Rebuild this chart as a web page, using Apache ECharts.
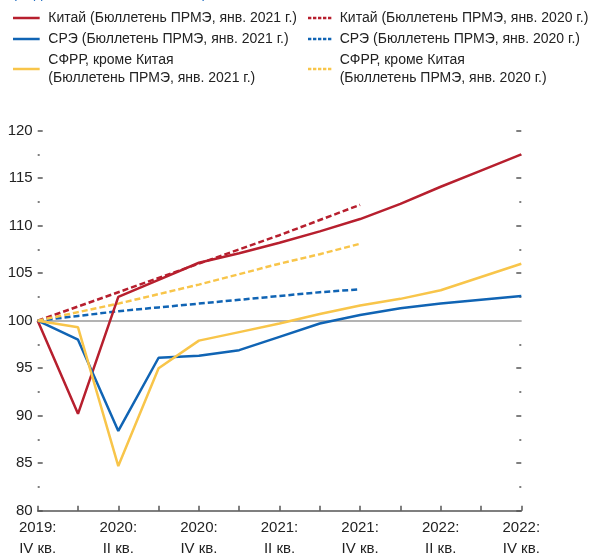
<!DOCTYPE html>
<html>
<head>
<meta charset="utf-8">
<script src="https://cdn.jsdelivr.net/npm/echarts@6/dist/echarts.min.js"></script>
<style>
  html, body { margin: 0; padding: 0; background: #fff; }
  #chart { width: 594px; height: 553px; }
</style>
</head>
<body>
<div id="chart"></div>
<script>
// кварталы IV кв. 2019 – IV кв. 2022
var quarters = [
  "2019:\nIV кв.", "2020:\nI кв.", "2020:\nII кв.", "2020:\nIII кв.", "2020:\nIV кв.",
  "2021:\nI кв.", "2021:\nII кв.", "2021:\nIII кв.", "2021:\nIV кв.",
  "2022:\nI кв.", "2022:\nII кв.", "2022:\nIII кв.", "2022:\nIV кв."
];

// бюллетень ПРМЭ, янв. 2021 г.
var china2021 = [100, 90.2, 102.5, 104.3, 106.1, 107.1, 108.2, 109.4, 110.7, 112.3, 114.1, 115.8, 117.5];
var eme2021 = [100, 98.0, 88.4, 96.1, 96.3, 96.9, 98.3, 99.7, 100.6, 101.3, 101.8, 102.2, 102.6];
var sfrr2021 = [100, 99.3, 84.7, 95.0, 97.9, 98.8, 99.7, 100.7, 101.6, 102.3, 103.2, 104.6, 106.0];

// бюллетень ПРМЭ, янв. 2020 г.
var china2020 = [100, 101.5, 103.0, 104.5, 106.0, 107.5, 109.0, 110.6, 112.2, null, null, null, null];
var eme2020 = [100, 100.5, 101.0, 101.4, 101.8, 102.2, 102.6, 103.0, 103.3, null, null, null, null];
var sfrr2020 = [100, 100.9, 101.8, 102.8, 103.8, 104.9, 106.0, 107.0, 108.1, null, null, null, null];

// подписи
var names = [
  "Китай (Бюллетень ПРМЭ, янв. 2021 г.)",
  "СРЭ (Бюллетень ПРМЭ, янв. 2021 г.)",
  "СФРР, кроме Китая\n(Бюллетень ПРМЭ, янв. 2021 г.)",
  "Китай (Бюллетень ПРМЭ, янв. 2020 г.)",
  "СРЭ (Бюллетень ПРМЭ, янв. 2020 г.)",
  "СФРР, кроме Китая\n(Бюллетень ПРМЭ, янв. 2020 г.)"
];

var RED = "#b71f2e";
var BLUE = "#1064b4";
var YELLOW = "#f8c54a";
var FONT = "'Liberation Sans Narrow', 'Liberation Sans', Arial, sans-serif";

// значки легенды: сплошная и пунктирная линия
var SOLID_ICON = "path://M0,0h32v3h-32z";
var DASH_ICON = "path://M0,0h4v3h-4z M6,0h4v3h-4z M12,0h4v3h-4z M18,0h4v3h-4z M24,0h4v3h-4z";

function line(name, data, color, dashed) {
  return {
    name: name,
    type: "line",
    data: data,
    symbol: "none",
    connectNulls: false,
    itemStyle: { color: color },
    lineStyle: { color: color, width: 2.5, type: dashed ? [6, 3] : "solid" },
    z: dashed ? 3 : 4
  };
}

var legendText = { fontFamily: FONT, fontSize: 14, color: "#222", lineHeight: 18, padding: [0, 0, 0, 1] };

var option = {
  animation: false,
  textStyle: { fontFamily: FONT },
  graphic: [{
    type: "text",
    left: 12,
    top: -14,
    style: { text: "(индекс, IV кв. 2019 г. = 100)", font: "15px " + FONT, fill: "#2a74c4" }
  }],
  legend: [
    {
      data: names.slice(0, 3).map(function (n) { return { name: n, icon: SOLID_ICON }; }),
      left: 13,
      top: 9,
      padding: 0,
      orient: "vertical",
      itemWidth: 32,
      itemHeight: 2.5,
      itemGap: 3,
      selectedMode: false,
      textStyle: legendText
    },
    {
      data: names.slice(3).map(function (n) { return { name: n, icon: DASH_ICON }; }),
      left: 308,
      top: 9,
      padding: 0,
      orient: "vertical",
      itemWidth: 28,
      itemHeight: 2.5,
      itemGap: 3,
      selectedMode: false,
      textStyle: legendText
    }
  ],
  grid: { left: 37.7, right: 72.7, top: 130.7, bottom: 42.3, outerBoundsMode: "none", containLabel: false },
  xAxis: {
    type: "category",
    data: quarters,
    boundaryGap: false,
    axisLine: { lineStyle: { color: "#555", width: 1.5 } },
    axisTick: { inside: true, length: 5, interval: 0, lineStyle: { color: "#555", width: 1.5 } },
    axisLabel: {
      interval: 1,
      margin: 7,
      fontFamily: FONT,
      fontSize: 15,
      lineHeight: 21,
      color: "#222"
    },
    splitLine: { show: false }
  },
  yAxis: [
    {
      type: "value",
      min: 80,
      max: 120,
      interval: 5,
      axisLine: { show: false },
      axisTick: { show: true, inside: true, length: 5, lineStyle: { color: "#555", width: 1.5 } },
      minorTick: { show: true, splitNumber: 2, length: 2, lineStyle: { color: "#555", width: 1.5 } },
      axisLabel: { margin: 5, fontFamily: FONT, fontSize: 15, color: "#222" },
      splitLine: { show: false }
    },
    {
      type: "value",
      position: "right",
      min: 80,
      max: 120,
      interval: 5,
      axisLine: { show: false },
      axisTick: { show: true, inside: true, length: 5, lineStyle: { color: "#555", width: 1.5 } },
      minorTick: { show: true, splitNumber: 2, length: 2, lineStyle: { color: "#555", width: 1.5 } },
      axisLabel: { show: false },
      splitLine: { show: false }
    }
  ],
  series: [
    Object.assign(line(names[0], china2021, RED, false), {
      markLine: {
        silent: true,
        symbol: "none",
        label: { show: false },
        lineStyle: { color: "#b3b3b3", width: 2, type: "solid" },
        data: [{ yAxis: 100 }],
        z: 1
      }
    }),
    line(names[1], eme2021, BLUE, false),
    line(names[2], sfrr2021, YELLOW, false),
    line(names[3], china2020, RED, true),
    line(names[4], eme2020, BLUE, true),
    line(names[5], sfrr2020, YELLOW, true)
  ]
};

echarts.init(document.getElementById("chart")).setOption(option);
</script>
</body>
</html>
